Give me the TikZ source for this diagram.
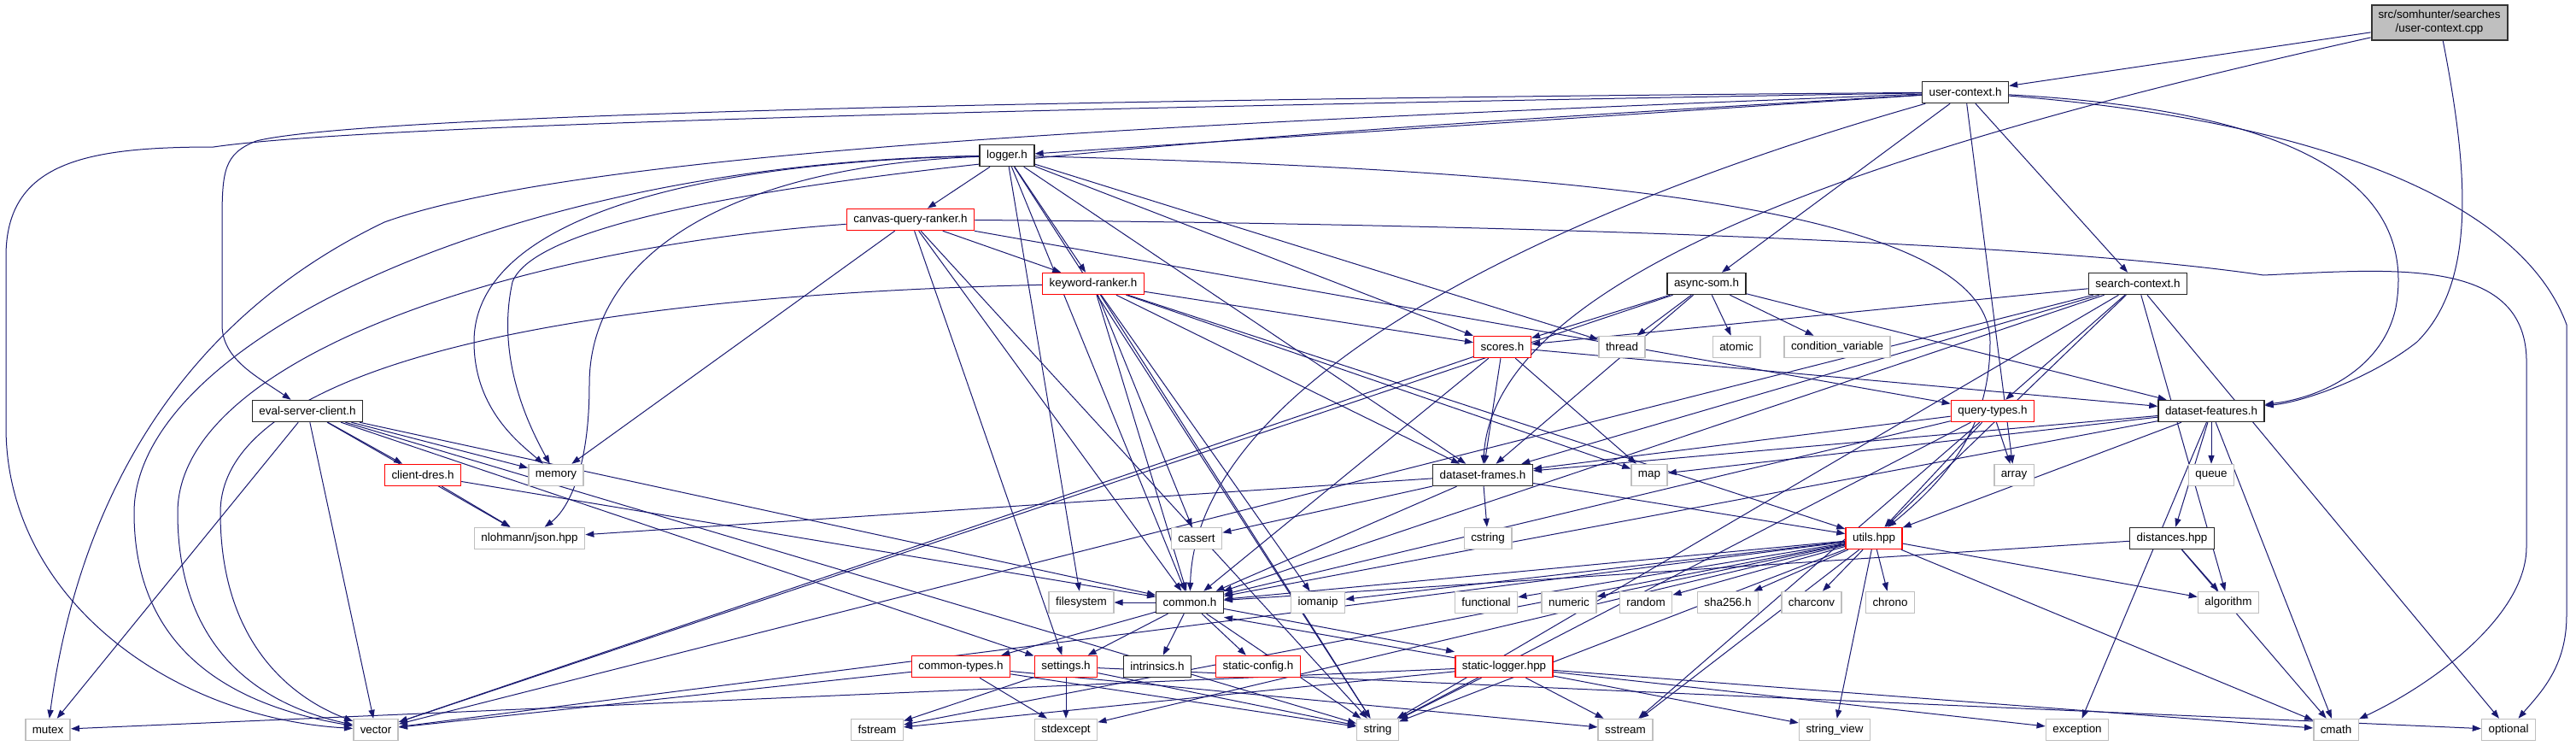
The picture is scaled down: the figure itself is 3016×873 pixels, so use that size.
\documentclass[tikz,border=0pt]{standalone}
\usepackage{fontspec}
\setmainfont{Liberation Sans}
\usetikzlibrary{arrows.meta,backgrounds}
\definecolor{EdgeBlue}{HTML}{191970}
\definecolor{HotRed}{HTML}{FF0000}
\definecolor{SysGray}{HTML}{BFBFBF}
\definecolor{RootGray}{HTML}{BFBFBF}

\begin{document}
\begin{tikzpicture}[x=0.5pt, y=-0.5pt,
  hdr/.style={draw=black!85, fill=white, line width=0.75pt, minimum height=12.5pt,
              inner xsep=4pt, inner ysep=0pt, font=\fontsize{6.7}{8.2}\selectfont},
  hot/.style={hdr, draw=HotRed},
  sys/.style={hdr, draw=SysGray},
  root/.style={hdr, fill=RootGray, draw=black!80, line width=1pt, align=center,
               minimum height=20.5pt},
  dep/.style={draw=EdgeBlue, line width=0.5pt, -{Triangle[length=5pt,width=3.6pt]}}]
  \useasboundingbox (0,0) rectangle (3016,873);
  % project headers
  \node[root] (cpp) at (2856,26) {src/somhunter/searches\\/user-context.cpp};
  \node[hdr] (uctx) at (2301,108) {user-context.h};
  \node[hdr] (logger) at (1179,182) {logger.h};
  \node[hot] (canvas) at (1066,257) {canvas-query-ranker.h};
  \node[hot] (kwr) at (1280,332) {keyword-ranker.h};
  \node[hdr] (asom) at (1998,332) {async-som.h};
  \node[hdr] (sctx) at (2503,332) {search-context.h};
  \node[hot] (scores) at (1759,406) {scores.h};
  \node[hdr] (esc) at (360,481) {eval-server-client.h};
  \node[hot] (qtypes) at (2333,481) {query-types.h};
  \node[hdr] (dfeat) at (2589,481) {dataset-features.h};
  \node[hot] (dres) at (495,556) {client-dres.h};
  \node[hdr] (dframes) at (1736,556) {dataset-frames.h};
  \node[hot] (utils) at (2194,630) {utils.hpp};
  \node[hdr] (dist) at (2543,630) {distances.hpp};
  \node[hdr] (common) at (1393,705) {common.h};
  \node[hot] (ctypes) at (1125,780) {common-types.h};
  \node[hot] (settings) at (1248,780) {settings.h};
  \node[hdr] (intrin) at (1355,780) {intrinsics.h};
  \node[hot] (sconfig) at (1473,780) {static-config.h};
  \node[hot] (slogger) at (1761,780) {static-logger.hpp};
  % system headers
  \node[sys] (thread) at (1899,406) {thread};
  \node[sys] (atomic) at (2033,406) {atomic};
  \node[sys] (condvar) at (2151,406) {condition\_variable};
  \node[sys] (memory) at (651,556) {memory};
  \node[sys] (map) at (1931,556) {map};
  \node[sys] (array) at (2358,556) {array};
  \node[sys] (queue) at (2589,556) {queue};
  \node[sys] (json) at (620,630) {nlohmann/json.hpp};
  \node[sys] (cassert) at (1401,630) {cassert};
  \node[sys] (cstring) at (1742,630) {cstring};
  \node[sys] (fs) at (1266,705) {filesystem};
  \node[sys] (iomanip) at (1543,705) {iomanip};
  \node[sys] (functional) at (1740,705) {functional};
  \node[sys] (numeric) at (1837,705) {numeric};
  \node[sys] (random) at (1927,705) {random};
  \node[sys] (sha) at (2023,705) {sha256.h};
  \node[sys] (charconv) at (2121,705) {charconv};
  \node[sys] (chrono) at (2213,705) {chrono};
  \node[sys] (algorithm) at (2609,705) {algorithm};
  \node[sys] (mutex) at (56,854) {mutex};
  \node[sys] (vector) at (440,854) {vector};
  \node[sys] (fstream) at (1027,854) {fstream};
  \node[sys] (stdexcept) at (1248,854) {stdexcept};
  \node[sys] (string) at (1613,854) {string};
  \node[sys] (sstream) at (1903,854) {sstream};
  \node[sys] (strview) at (2148,854) {string\_view};
  \node[sys] (exception) at (2432,854) {exception};
  \node[sys] (cmath) at (2735,854) {cmath};
  \node[sys] (optional) at (2937,854) {optional};

  \begin{scope}[on background layer]
  % straight includes
  \path (cpp) edge[dep] (uctx);
  \path (uctx) edge[dep] (logger)
        edge[dep] (asom) edge[dep] (sctx) edge[dep] (array);
  \path (logger) edge[dep] (canvas) edge[dep] (kwr) edge[dep] (scores)
        edge[dep] (thread) edge[dep] (dframes) edge[dep] (common)
        edge[dep] (fs) edge[dep] (string);
  \path (canvas) edge[dep] (kwr) edge[dep] (memory)
        edge[dep] (common) edge[dep] (settings) edge[dep] (string)
        edge[dep] (qtypes);
  \path (kwr) edge[dep] (scores) edge[dep] (dframes) edge[dep] (map)
        edge[dep] (common) edge[dep] (utils)
        edge[dep] (cassert) edge[dep] (string) edge[dep] (iomanip);
  \path (scores) edge[dep] (dframes) edge[dep] (dfeat) edge[dep] (map)
        edge[dep] (common) edge[dep] (vector);
  \path (asom) edge[dep] (scores) edge[dep] (thread) edge[dep] (atomic)
        edge[dep] (condvar) edge[dep] (dfeat) edge[dep] (dframes)
        edge[dep] (vector);
  \path (esc) edge[dep] (dres) edge[dep] (memory) edge[dep] (json)
        edge[dep] (mutex) edge[dep] (vector) edge[dep] (common)
        edge[dep] (string) edge[dep] (settings);
  \path (dres) edge[dep] (json) edge[dep] (common);
  \path (sctx) edge[dep] (scores) edge[dep] (dframes) edge[dep] (common)
        edge[dep] (qtypes) edge[dep] (utils) edge[dep] (algorithm)
        edge[dep] (optional) edge[dep] (vector) edge[dep] (string);
  \path (qtypes) edge[dep] (array) edge[dep] (utils) edge[dep] (dframes)
        edge[dep] (common) edge[dep] (string) edge[dep] (sstream);
  \path (dfeat) edge[dep] (dframes) edge[dep] (map) edge[dep] (utils)
        edge[dep] (common) edge[dep] (dist) edge[dep] (queue)
        edge[dep] (exception) edge[dep] (cmath);
  \path (dframes) edge[dep] (json) edge[dep] (cassert) edge[dep] (cstring)
        edge[dep] (utils) edge[dep] (common);
  \path (dist) edge[dep] (algorithm) edge[dep] (cmath) edge[dep] (common);
  \path (utils) edge[dep] (common) edge[dep] (iomanip) edge[dep] (functional)
        edge[dep] (numeric) edge[dep] (random) edge[dep] (sha)
        edge[dep] (charconv) edge[dep] (chrono) edge[dep] (algorithm)
        edge[dep] (cmath) edge[dep] (strview) edge[dep] (string)
        edge[dep] (sstream) edge[dep] (vector) edge[dep] (stdexcept)
        edge[dep] (fstream);
  \path (common) edge[dep] (ctypes) edge[dep] (settings) edge[dep] (intrin)
        edge[dep] (sconfig) edge[dep] ([yshift=2pt]slogger.north west)
        edge[dep] (string) edge[dep] (fs);
  \path (ctypes) edge[dep] (vector) edge[dep] (string) edge[dep] (stdexcept)
        edge[dep] (sstream);
  \path (settings) edge[dep] (fstream) edge[dep] (stdexcept) edge[dep] (string)
        edge[dep] (optional);
  \path (slogger) edge[dep] ([yshift=-2pt]common.south east) edge[dep] (mutex)
        edge[dep] (string) edge[dep] (sstream) edge[dep] (strview)
        edge[dep] (fstream) edge[dep] (exception) edge[dep] (cmath);
  % curved includes
  \draw[dep] (cpp) .. controls (2300,150) and (1750,300) .. (dframes);
  \draw[dep] (uctx) .. controls (1800,250) and (1400,450) .. (common);
  \draw[dep] (logger) .. controls (1900,200) and (2330,250) .. (2330,400)
    .. controls (2330,500) and (2280,560) .. (utils);
  \draw[dep] (uctx) .. controls (1000,118) and (400,140) .. (300,165)
    .. controls (262,180) and (260,200) .. (260,260) -- (260,380)
    .. controls (260,420) and (300,440) .. (esc);
  \draw[dep] (uctx) .. controls (1000,130) and (400,150) .. (250,172)
    .. controls (100,172) and (7,190) .. (7,300) -- (7,500)
    .. controls (7,700) and (200,840) .. (vector);
  \draw[dep] (uctx) .. controls (1500,140) and (700,170) .. (450,260)
    .. controls (200,380) and (90,600) .. (mutex);
  \draw[dep] (uctx) .. controls (1600,150) and (650,200) .. (600,330)
    .. controls (580,420) and (620,500) .. (memory);
  \draw[dep] (uctx) .. controls (2700,140) and (2950,230) .. (3005,380)
    -- (3005,720) .. controls (3005,780) and (2975,810) .. (optional);
  \draw[dep] (uctx) .. controls (2700,130) and (2830,220) .. (2805,360)
    .. controls (2790,430) and (2720,465) .. (dfeat);
  \draw[dep] (cpp) .. controls (2890,200) and (2900,330) .. (2830,400)
    .. controls (2780,440) and (2700,470) .. (dfeat);
  \draw[dep] (canvas) .. controls (1800,262) and (2400,285) .. (2650,322)
    .. controls (2800,315) and (2955,300) .. (2958,420) -- (2958,640)
    .. controls (2958,720) and (2850,800) .. (cmath);
  \draw[dep] (logger) .. controls (800,190) and (555,260) .. (555,400)
    .. controls (555,480) and (610,520) .. (memory);
  \draw[dep] (logger) .. controls (850,195) and (690,300) .. (690,450)
    .. controls (690,560) and (660,600) .. (json);
  \draw[dep] (logger) .. controls (600,190) and (157,400) .. (157,600)
    .. controls (157,780) and (300,830) .. (vector);
  \draw[dep] (canvas) .. controls (600,290) and (208,420) .. (208,600)
    .. controls (208,780) and (330,830) .. (vector);
  \draw[dep] (kwr) .. controls (700,345) and (258,420) .. (258,600)
    .. controls (258,760) and (350,820) .. (vector);
  \end{scope}
\end{tikzpicture}
\end{document}
